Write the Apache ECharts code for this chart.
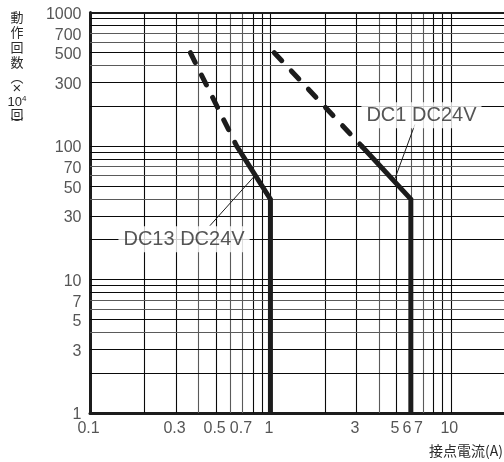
<!DOCTYPE html>
<html>
<head>
<meta charset="utf-8">
<script src="https://cdn.jsdelivr.net/npm/echarts@6/dist/echarts.min.js"></script>
<style>
html,body{margin:0;padding:0;background:#fff;}
#c{width:504px;height:462px;}
</style>
</head>
<body>
<div id="c"></div>
<script>
// ---- data ----
const xTickLabels = ['0.1','0.3','0.5','0.7','1','3','5','6','7','10'];
const yTickLabels = ['1','3','5','7','10','30','50','70','100','300','500','700','1000'];
const xGridValues = [0.2,0.3,0.4,0.5,0.6,0.7,0.8,0.9,1,2,3,4,5,6,7,8,9,10];
const yGridValues = [2,3,4,5,6,7,8,9,10,20,30,40,50,60,70,80,90,100,200,300,400,500,600,700,800,900];
const dc13Dashed = [[0.36, 500], [0.65, 100]];
const dc13Solid  = [[0.65, 100], [1, 40], [1, 1]];
const dc1Dashed  = [[1.05, 500], [3.2, 100]];
const dc1Solid   = [[3.2, 100], [6, 40], [6, 1]];
const dc13Leader = [[0.462, 25.3], [0.82, 60]];
const dc1Leader  = [[6.32, 145], [4.9, 57]];
const annotations = [
  {name: 'DC13 DC24V', value: [0.332, 20]},
  {name: 'DC1 DC24V', value: [6.87, 170]}
];
const X_MIN = 0.1, X_MAX = 19.7, Y_MIN = 1, Y_MAX = 1000;

// ---- styling helpers ----
const INK = '#1c1c1c';
const TXT = '#2a2a2a';
const CLEAR = 'rgba(0,0,0,0)';
function gridColor(v) {
  const lead = Number(String(v).replace(/^0\.|0+$/g, '').charAt(0));
  return [4, 6, 7].indexOf(lead) >= 0 ? '#5a5a5a' : '#0a0a0a';
}
const xShift = {'6': -4, '7': -4.5};

const markData = [];
xGridValues.forEach(v => markData.push({xAxis: v, lineStyle: {color: gridColor(v), width: 1.1, type: 'solid'}}));
yGridValues.forEach(v => markData.push({yAxis: v, lineStyle: {color: gridColor(v), width: 1.1, type: 'solid'}}));
markData.push({yAxis: Y_MAX, lineStyle: {color: INK, width: 2, type: 'solid'}});

const tickFont = {fontFamily: '"Liberation Sans", Arial, sans-serif', fontSize: 16, color: TXT};

const chart = echarts.init(document.getElementById('c'), null, {renderer: 'canvas'});
const option = {
  animation: false,
  backgroundColor: '#fff',
  grid: {left: 90, right: 0, top: 12.5, bottom: 49},
  xAxis: {
    type: 'log', logBase: 10, min: X_MIN, max: X_MAX,
    axisLine: {show: true, lineStyle: {color: INK, width: 3}},
    axisTick: {show: false}, axisLabel: {show: false}, splitLine: {show: false}
  },
  yAxis: {
    type: 'log', logBase: 10, min: Y_MIN, max: Y_MAX,
    axisLine: {show: true, lineStyle: {color: INK, width: 3}},
    axisTick: {show: false}, axisLabel: {show: false}, splitLine: {show: false}
  },
  series: [
    {
      type: 'line', data: [], silent: true, z: 1,
      markLine: {silent: true, symbol: 'none', z: 1, animation: false, label: {show: false}, data: markData}
    },
    {
      type: 'line', data: dc13Dashed, showSymbol: false, z: 3, silent: true,
      lineStyle: {color: INK, width: 5, type: [11, 14], cap: 'round'}
    },
    {
      type: 'line', data: dc13Solid, showSymbol: false, z: 3, silent: true,
      lineStyle: {color: INK, width: 5, type: 'solid', cap: 'butt', join: 'miter'}
    },
    {
      type: 'line', data: dc1Dashed, showSymbol: false, z: 3, silent: true,
      lineStyle: {color: INK, width: 5, type: [11, 14], cap: 'round'}
    },
    {
      type: 'line', data: dc1Solid, showSymbol: false, z: 3, silent: true,
      lineStyle: {color: INK, width: 5, type: 'solid', cap: 'butt', join: 'miter'}
    },
    {
      type: 'line', data: dc13Leader, showSymbol: false, z: 4, silent: true,
      lineStyle: {color: INK, width: 1}
    },
    {
      type: 'line', data: dc1Leader, showSymbol: false, z: 4, silent: true,
      lineStyle: {color: INK, width: 1}
    },
    {
      type: 'scatter', data: annotations, symbolSize: 1, itemStyle: {color: CLEAR}, z: 5, clip: false, silent: true,
      label: {
        show: true, position: 'inside', formatter: '{b}',
        fontFamily: '"Liberation Sans", Arial, sans-serif', fontSize: 20, color: TXT,
        backgroundColor: '#fff', padding: [3, 5], lineHeight: 20
      }
    },
    {
      type: 'scatter', z: 6, clip: false, silent: true, symbolSize: 1, itemStyle: {color: CLEAR},
      data: xTickLabels.map(s => ({value: [parseFloat(s), Y_MIN], name: s,
        label: {offset: [xShift[s] !== undefined ? xShift[s] : -1.5, 0]}})),
      label: Object.assign({show: true, position: 'bottom', distance: 7, formatter: '{b}'}, tickFont)
    },
    {
      type: 'scatter', z: 6, clip: false, silent: true, symbolSize: 1, itemStyle: {color: CLEAR},
      data: yTickLabels.map(s => ({value: [X_MIN, parseFloat(s)], name: s})),
      label: Object.assign({show: true, position: 'left', distance: 8, offset: [0, 2], formatter: '{b}'}, tickFont)
    }
  ],
  graphic: [
    {type: 'text', x: 17, y: 17.5, style: {text: '動', font: '13px "Noto Sans CJK JP"', align: 'center', verticalAlign: 'middle', fill: TXT}},
    {type: 'text', x: 17, y: 32, style: {text: '作', font: '13px "Noto Sans CJK JP"', align: 'center', verticalAlign: 'middle', fill: TXT}},
    {type: 'text', x: 17, y: 47.5, style: {text: '回', font: '13px "Noto Sans CJK JP"', align: 'center', verticalAlign: 'middle', fill: TXT}},
    {type: 'text', x: 17, y: 62, style: {text: '数', font: '13px "Noto Sans CJK JP"', align: 'center', verticalAlign: 'middle', fill: TXT}},
    {type: 'text', x: 17, y: 77, style: {text: '︵', font: '13px "Noto Sans CJK JP"', align: 'center', verticalAlign: 'middle', fill: TXT}},
    {type: 'text', x: 17, y: 89, style: {text: '×', font: '15px "Liberation Sans", Arial', align: 'center', verticalAlign: 'middle', fill: TXT}},
    {type: 'text', x: 17, y: 102, style: {
      text: '{a|10}{b|4}', align: 'center', verticalAlign: 'middle', fill: TXT,
      rich: {a: {fontSize: 13, fontFamily: '"Liberation Sans", Arial', fill: TXT}, b: {fontSize: 8, fontFamily: '"Liberation Sans", Arial', fill: TXT, verticalAlign: 'top', padding: [0, 0, 6, 0]}}
    }},
    {type: 'text', x: 17, y: 114, style: {text: '回', font: '13px "Noto Sans CJK JP"', align: 'center', verticalAlign: 'middle', fill: TXT}},
    {type: 'text', x: 17, y: 123, style: {text: '︶', font: '13px "Noto Sans CJK JP"', align: 'center', verticalAlign: 'middle', fill: TXT}},
    {type: 'text', x: 503, y: 451, style: {text: '接点電流(A)', font: '14px "Noto Sans CJK JP"', align: 'right', verticalAlign: 'middle', fill: TXT}}
  ]
};
chart.setOption(option);
</script>
</body>
</html>
